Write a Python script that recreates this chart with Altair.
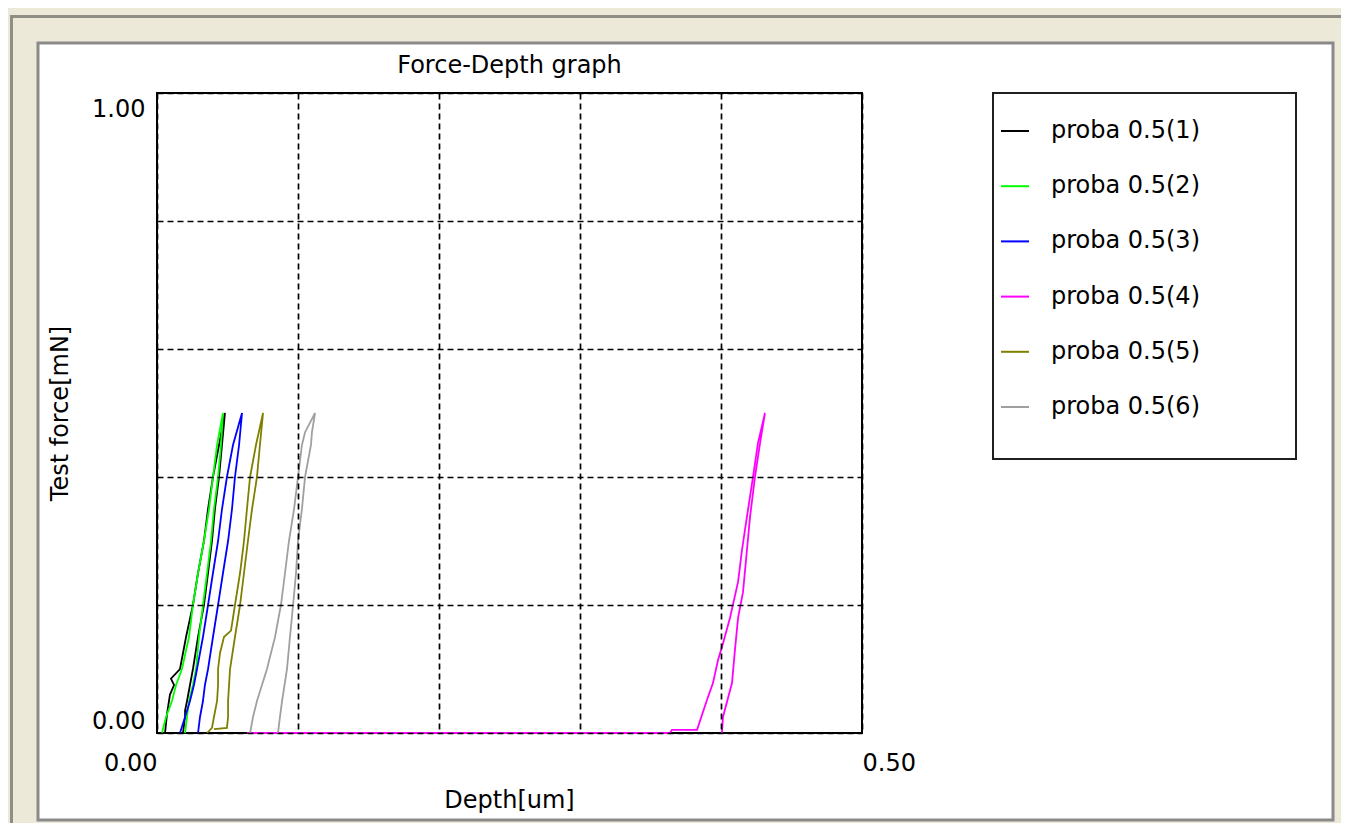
import altair as alt
import pandas as pd

# ---------------- data (depth in um, force in mN) ----------------
series_names = ["proba 0.5(1)", "proba 0.5(2)", "proba 0.5(3)",
                "proba 0.5(4)", "proba 0.5(5)", "proba 0.5(6)"]
series_colors = ["#000000", "#00FF00", "#0000FF", "#FF00FF", "#808000", "#A0A0A0"]

# proba 0.5(1)
s1_load_depth = [0.0057, 0.0071, 0.0092, 0.0121, 0.0099, 0.0163, 0.0206, 0.0255, 0.0291, 0.0333, 0.0362, 0.0397, 0.0440, 0.0482]
s1_load_force = [0.0, 0.03, 0.06, 0.075, 0.085, 0.10, 0.15, 0.20, 0.25, 0.30, 0.35, 0.40, 0.45, 0.50]
s1_unload_depth = [0.0461, 0.0440, 0.0411, 0.0390, 0.0362, 0.0333, 0.0291, 0.0255, 0.0234, 0.0213, 0.0199, 0.0199, 0.0184]
s1_unload_force = [0.45, 0.40, 0.35, 0.30, 0.25, 0.20, 0.15, 0.10, 0.075, 0.05, 0.035, 0.025, 0.0]

# proba 0.5(2)
s2_load_depth = [0.0035, 0.0064, 0.0106, 0.0135, 0.0177, 0.0227, 0.0255, 0.0291, 0.0333, 0.0369, 0.0397, 0.0426, 0.0468]
s2_load_force = [0.0, 0.025, 0.05, 0.075, 0.10, 0.15, 0.20, 0.25, 0.30, 0.35, 0.40, 0.45, 0.50]
s2_unload_depth = [0.0454, 0.0433, 0.0404, 0.0383, 0.0355, 0.0326, 0.0298, 0.0277, 0.0255, 0.0227, 0.0213, 0.0199]
s2_unload_force = [0.45, 0.40, 0.35, 0.30, 0.25, 0.20, 0.15, 0.10, 0.075, 0.05, 0.025, 0.0]

# proba 0.5(3)
s3_load_depth = [0.0163, 0.0199, 0.0234, 0.0262, 0.0284, 0.0326, 0.0362, 0.0397, 0.0433, 0.0461, 0.0496, 0.0539, 0.0603]
s3_load_force = [0.0, 0.025, 0.05, 0.075, 0.10, 0.15, 0.20, 0.25, 0.30, 0.35, 0.40, 0.45, 0.50]
s3_unload_depth = [0.0582, 0.0553, 0.0532, 0.0504, 0.0468, 0.0433, 0.0397, 0.0362, 0.0340, 0.0326, 0.0305, 0.0291]
s3_unload_force = [0.45, 0.40, 0.35, 0.30, 0.25, 0.20, 0.15, 0.10, 0.075, 0.05, 0.025, 0.0]

# proba 0.5(4)
s4_load_depth = [0.0638, 0.3638, 0.3652, 0.3830, 0.3901, 0.3943, 0.3979, 0.4014, 0.4064, 0.4121, 0.4149, 0.4184, 0.4227, 0.4262, 0.4312]
s4_load_force = [0.0, 0.0, 0.005, 0.005, 0.052, 0.078, 0.114, 0.14, 0.18, 0.236, 0.286, 0.338, 0.40, 0.453, 0.50]
s4_unload_depth = [0.4277, 0.4241, 0.4206, 0.4184, 0.4156, 0.4121, 0.4099, 0.4078, 0.4014, 0.4007]
s4_unload_force = [0.453, 0.40, 0.338, 0.286, 0.22, 0.18, 0.13, 0.078, 0.025, 0.0]

# proba 0.5(5)
s5_load_depth = [0.0355, 0.0390, 0.0404, 0.0426, 0.0433, 0.0433, 0.0447, 0.0475, 0.0525, 0.0553, 0.0589, 0.0617, 0.0638, 0.0660, 0.0702, 0.0752]
s5_load_force = [0.0, 0.008, 0.025, 0.05, 0.075, 0.10, 0.125, 0.15, 0.16, 0.20, 0.25, 0.30, 0.35, 0.40, 0.45, 0.50]
s5_unload_depth = [0.0730, 0.0709, 0.0674, 0.0645, 0.0617, 0.0589, 0.0553, 0.0518, 0.0511, 0.0504, 0.0504, 0.0496, 0.0404]
s5_unload_force = [0.45, 0.40, 0.35, 0.30, 0.25, 0.20, 0.15, 0.10, 0.075, 0.05, 0.025, 0.008, 0.006]

# proba 0.5(6)
s6_load_depth = [0.0660, 0.0681, 0.0709, 0.0780, 0.0837, 0.0879, 0.0908, 0.0936, 0.0972, 0.1000, 0.1028, 0.1050, 0.1121]
s6_load_force = [0.0, 0.025, 0.05, 0.10, 0.15, 0.20, 0.25, 0.30, 0.35, 0.40, 0.45, 0.47, 0.50]
s6_unload_depth = [0.1099, 0.1092, 0.1050, 0.1028, 0.1000, 0.0986, 0.0965, 0.0943, 0.0922, 0.0887, 0.0872, 0.0858]
s6_unload_force = [0.47, 0.45, 0.40, 0.35, 0.30, 0.25, 0.20, 0.15, 0.10, 0.05, 0.025, 0.0]

x_ticks = [0.0, 0.1, 0.2, 0.3, 0.4, 0.5]
y_ticks = [0.0, 0.2, 0.4, 0.6, 0.8, 1.0]

chart_title = "Force-Depth graph"
x_title = "Depth[um]"
y_title = "Test force[mN]"

# ---------------- build table ----------------
curves = [
    (s1_load_depth + s1_unload_depth, s1_load_force + s1_unload_force),
    (s2_load_depth + s2_unload_depth, s2_load_force + s2_unload_force),
    (s3_load_depth + s3_unload_depth, s3_load_force + s3_unload_force),
    (s4_load_depth + s4_unload_depth, s4_load_force + s4_unload_force),
    (s5_load_depth + s5_unload_depth, s5_load_force + s5_unload_force),
    (s6_load_depth + s6_unload_depth, s6_load_force + s6_unload_force),
]
rows = []
for si, (name, (dd, ff)) in enumerate(zip(series_names, curves)):
    for i, (d, f) in enumerate(zip(dd, ff)):
        rows.append({"series": name, "sidx": si, "idx": i, "depth": d, "force": f})
df = pd.DataFrame(rows)

FONT = "DejaVu Sans"
W, H = 705, 640
one = pd.DataFrame({"k": [0]})

# ---------------- decoration (window frame) ----------------
outer = alt.Chart(one).mark_rect(fill="#ECE9D8", stroke="#8E8E84", strokeWidth=3).encode(
    x=alt.value(-145.5), x2=alt.value(1300), y=alt.value(-76.5), y2=alt.value(900))
panel = alt.Chart(one).mark_rect(fill="white", stroke="#8A8A8A", strokeWidth=3).encode(
    x=alt.value(-119), x2=alt.value(1176), y=alt.value(-50), y2=alt.value(727))
border = alt.Chart(one).mark_rect(fillOpacity=0, stroke="black", strokeWidth=2).encode(
    x=alt.value(0), x2=alt.value(W), y=alt.value(0), y2=alt.value(H))

# ---------------- curves ----------------
lines = alt.Chart(df).mark_line(strokeWidth=1.8, interpolate="linear").encode(
    x=alt.X("depth:Q", scale=alt.Scale(domain=[0, 0.5], nice=False, zero=False),
            axis=alt.Axis(values=x_ticks, grid=True, gridColor="black", gridDash=[6, 4],
                          gridWidth=1.7, gridOpacity=1, domain=False, ticks=False, tickSize=0,
                          labelExpr="datum.value < 0.001 || datum.value > 0.499 ? format(datum.value, '.2f') : ''",
                          labelAlign={"condition": {"test": "datum.value < 0.001", "value": "right"}, "value": "left"},
                          labelFlush=False, labelOverlap=False, labelPadding=18,
                          labelFont=FONT, labelFontSize=24, labelColor="black",
                          title=x_title, titleFont=FONT, titleFontSize=24, titleFontWeight="normal",
                          titleColor="black", titleX=352, titleY=74, titleBaseline="alphabetic",
                          titleAlign="center", zindex=1)),
    y=alt.Y("force:Q", scale=alt.Scale(domain=[0, 1], nice=False),
            axis=alt.Axis(values=y_ticks, grid=True, gridColor="black", gridDash=[6, 4],
                          gridWidth=1.7, gridOpacity=1, domain=False, ticks=False, tickSize=0,
                          labelExpr="datum.value < 0.001 || datum.value > 0.999 ? format(datum.value, '.2f') : ''",
                          labelBaseline={"condition": {"test": "datum.value < 0.001", "value": "bottom"}, "value": "top"},
                          labelOffset={"condition": {"test": "datum.value > 0.999", "value": 4}, "value": 0},
                          labelFlush=False, labelOverlap=False, labelPadding=12,
                          labelFont=FONT, labelFontSize=24, labelColor="black",
                          title=y_title, titleFont=FONT, titleFontSize=24, titleFontWeight="normal",
                          titleColor="black", titleX=-90, titleY=320, titleAngle=270,
                          titleBaseline="alphabetic", titleAlign="center", zindex=1)),
    color=alt.Color("series:N", scale=alt.Scale(domain=series_names, range=series_colors),
                    legend=alt.Legend(title=None, orient="none", legendX=843, legendY=23,
                                      direction="vertical", symbolType="stroke",
                                      symbolSize=784, symbolStrokeWidth=2,
                                      labelFont=FONT, labelFontSize=24, labelColor="black",
                                      labelOffset=21, rowPadding=28.2, padding=0,
                                      labelLimit=400)),
    order=alt.Order("idx:Q"),
)

legend_box = alt.Chart(one).mark_rect(fillOpacity=0, stroke="#202020", strokeWidth=2).encode(
    x=alt.value(836), x2=alt.value(1139), y=alt.value(0), y2=alt.value(366))
title = alt.Chart(one).mark_text(text=chart_title, font=FONT, fontSize=24, color="black",
                                 align="center", baseline="alphabetic").encode(
    x=alt.value(W / 2), y=alt.value(-20))

chart = alt.layer(outer, panel, border, lines, legend_box, title).properties(
    width=W, height=H,
    autosize=alt.AutoSizeParams(type="none"),
    padding={"left": 149, "top": 85, "right": 479, "bottom": 90},
    background="#ECE9D8",
).configure(font=FONT).configure_view(strokeWidth=0)

chart.save("out.html", embed_options={"renderer": "svg", "actions": False})
